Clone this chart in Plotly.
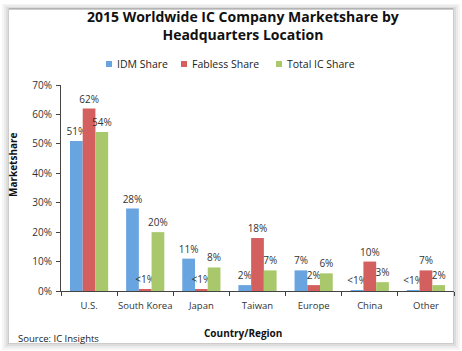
import plotly.graph_objects as go

categories = ["U.S.", "South Korea", "Japan", "Taiwan", "Europe", "China", "Other"]
idm_share = [51, 28, 11, 2, 7, 0.3, 0.3]
fabless_share = [62, 0.5, 0.5, 18, 2, 10, 7]
total_share = [54, 20, 8, 7, 6, 3, 2]
series_names = ["IDM Share", "Fabless Share", "Total IC Share"]
y_ticks = [0, 10, 20, 30, 40, 50, 60, 70]

colors = ["#68A4DF", "#D35F5F", "#A8C86B"]
W, H = 462, 351
L, R, T, B = 61, 8, 85, 60
pw, ph = W - L - R, H - T - B


def px(x):
    return (x - L) / pw


def py(y):
    return (H - B - y) / ph


def lab(v):
    return "<1%" if v < 1 else f"{v:.0f}%"


fig = go.Figure()
for name, vals, c in zip(series_names, [idm_share, fabless_share, total_share], colors):
    fig.add_trace(go.Bar(
        x=categories, y=vals, name=name, marker=dict(color=c, line=dict(width=0)),
        text=[lab(v) for v in vals], textposition="outside", constraintext="none",
        cliponaxis=False, textfont=dict(family="Open Sans", size=10, color="#333333"),
        showlegend=False,
    ))

shapes = []
# card shadow layers
for (x0, y0, x1, y1, col) in [(2, 4, 460, 350, "#f5f5f5"), (4, 5, 458, 348, "#ebebeb"),
                              (6, 7, 456, 346, "#dddddd"), (8, 8, 454, 344, "#cccccc")]:
    shapes.append(dict(type="rect", xref="paper", yref="paper", x0=px(x0), x1=px(x1),
                       y0=py(y1), y1=py(y0), fillcolor=col, line=dict(width=0), layer="below"))
shapes.append(dict(type="rect", xref="paper", yref="paper", x0=px(9), x1=px(453),
                   y0=py(343), y1=py(9), fillcolor="white", line=dict(width=0), layer="below"))
shapes.append(dict(type="line", xref="paper", yref="paper", x0=px(9), x1=px(453),
                   y0=py(9), y1=py(9), line=dict(color="#9a9a9a", width=1), layer="below"))

annotations = [
    dict(text="<b>2015 Worldwide IC Company Marketshare by<br>Headquarters Location</b>",
         xref="paper", yref="paper", x=px(243), y=py(26), showarrow=False,
         font=dict(family="Open Sans", size=14, color="#111111"), xanchor="center", yanchor="middle"),
    dict(text="<b>Marketshare</b>", xref="paper", yref="paper", x=px(13), y=py(165),
         showarrow=False, textangle=-90, xanchor="center", yanchor="middle",
         font=dict(family="Open Sans", size=10, color="#111111")),
    dict(text="<b>Country/Region</b>", xref="paper", yref="paper", x=px(243), y=py(333),
         showarrow=False, xanchor="center", yanchor="middle",
         font=dict(family="Open Sans", size=10, color="#111111")),
    dict(text="Source: IC Insights", xref="paper", yref="paper", x=px(16), y=py(338),
         showarrow=False, xanchor="left", yanchor="middle",
         font=dict(family="Open Sans", size=9.5, color="#222222")),
]

# custom compact legend
legend_x = [106, 181, 276]
for name, c, lx in zip(series_names, colors, legend_x):
    shapes.append(dict(type="rect", xref="paper", yref="paper", x0=px(lx), x1=px(lx + 6),
                       y0=py(67), y1=py(61), fillcolor=c, line=dict(width=0)))
    annotations.append(dict(text=name, xref="paper", yref="paper", x=px(lx + 9), y=py(64.5),
                            showarrow=False, xanchor="left", yanchor="middle",
                            font=dict(family="Open Sans", size=10.5, color="#222222")))

fig.update_layout(
    width=W, height=H, margin=dict(l=L, r=R, t=T, b=B),
    paper_bgcolor="white", plot_bgcolor="rgba(0,0,0,0)",
    barmode="group", bargap=0.32, bargroupgap=0,
    showlegend=False,
    xaxis=dict(showgrid=False, showline=True, linecolor="#444444", linewidth=1,
               ticks="outside", tickson="boundaries", ticklen=4, tickcolor="#444444",
               tickangle=0, automargin=False, ticklabelstandoff=6,
               tickfont=dict(family="Open Sans", size=9.5, color="#333333")),
    yaxis=dict(range=[0, 70], tickvals=y_ticks, ticktext=[f"{t}%" for t in y_ticks],
               showgrid=False, showline=True, linecolor="#444444", linewidth=1,
               ticks="outside", ticklen=4, tickcolor="#444444", zeroline=False,
               automargin=False, ticklabelstandoff=2,
               tickfont=dict(family="Open Sans", size=10, color="#333333")),
    shapes=shapes, annotations=annotations,
)

fig.write_html("out.html")
